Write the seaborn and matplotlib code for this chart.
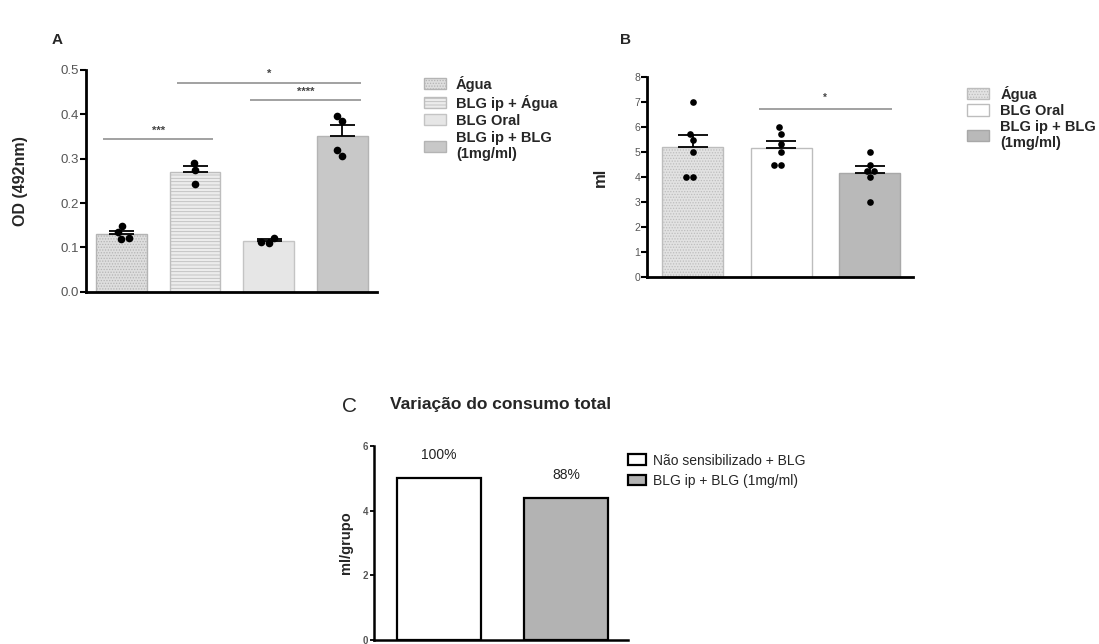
import numpy as np
import pandas as pd
import matplotlib
matplotlib.use("Agg")
import matplotlib.pyplot as plt
from matplotlib.patches import Patch
import seaborn as sns

# ---------------- data ----------------
groups_A = ["Água", "BLG ip + Água", "BLG Oral", "BLG ip + BLG\n(1mg/ml)"]
od_agua = [0.134, 0.149, 0.118, 0.122]
od_blgip_agua = [0.291, 0.274, 0.244]
od_blg_oral = [0.122, 0.110, 0.113]
od_blgip_blg = [0.397, 0.385, 0.307, 0.320]
sig_A = [(0, 1, 0.344, "***"), (1, 3, 0.471, "*"), (2, 3, 0.432, "****")]

groups_B = ["Água", "BLG Oral", "BLG ip + BLG\n(1mg/ml)"]
ml_agua = [7.0, 5.75, 5.5, 5.0, 4.0, 4.0]
ml_blg_oral = [6.0, 5.75, 5.33, 5.0, 4.5, 4.5]
ml_blgip_blg = [5.0, 4.5, 4.25, 4.25, 4.0, 3.0]
sig_B = [(1, 2, 6.72, "*")]

groups_C = ["Não sensibilizado + BLG", "BLG ip + BLG (1mg/ml)"]
consumo_C = [5.0, 4.4]
pct_C = ["100%", "88%"]

# ---------------- style ----------------
sns.set_style("ticks")
plt.rcParams["font.family"] = ["Liberation Sans", "DejaVu Sans"]
plt.rcParams["hatch.linewidth"] = 0.6

W, H = 1099, 644
fig = plt.figure(figsize=(W / 100, H / 100), dpi=100)


def box(l, r, t, b):
    return [l / W, 1 - b / H, (r - l) / W, (b - t) / H]


def style_axes(ax, tick_size, lw=2.0):
    sns.despine(ax=ax)
    ax.spines["left"].set_linewidth(lw)
    ax.spines["bottom"].set_linewidth(lw)
    ax.spines["left"].set_color("black")
    ax.spines["bottom"].set_color("black")
    ax.tick_params(axis="y", length=4, width=1.5, labelsize=tick_size,
                   colors="black", labelcolor="#555555", pad=1)
    ax.tick_params(axis="x", length=0, labelbottom=False)
    ax.set_xlabel("")


def sem_bars(ax, df, order, capsize):
    g = df.groupby("grupo", sort=False)["val"]
    means = g.mean().reindex(order).values
    sems = g.sem().reindex(order).values
    ax.errorbar(np.arange(len(order)), means, yerr=[np.zeros_like(sems), sems],
                fmt="none", ecolor="black", elinewidth=1.3, capsize=capsize,
                capthick=1.3, zorder=3)


def sig_lines(ax, sigs, star_off, fs):
    for a, b, h, s in sigs:
        ax.plot([a - 0.25, b + 0.25], [h, h], color="#9a9a9a", lw=1.3,
                solid_capstyle="butt", zorder=2)
        ax.text((a + b) / 2, h + star_off, s, ha="center", va="bottom",
                fontsize=fs, color="#444444", fontweight="bold")


# ---------------- Panel A ----------------
dfA = pd.DataFrame({
    "grupo": [groups_A[0]] * len(od_agua) + [groups_A[1]] * len(od_blgip_agua)
    + [groups_A[2]] * len(od_blg_oral) + [groups_A[3]] * len(od_blgip_blg),
    "val": od_agua + od_blgip_agua + od_blg_oral + od_blgip_blg,
})
faces_A = ["#dedede", "#ececec", "#e6e6e6", "#c8c8c8"]
edges_A = ["#b4b4b4", "#bdbdbd", "#c4c4c4", "#b4b4b4"]
hatch_A = ["......", "-----", None, None]

axA = fig.add_axes(box(86, 377, 70, 291.7))
sns.barplot(data=dfA, x="grupo", y="val", order=groups_A, hue="grupo",
            hue_order=groups_A, palette=faces_A, legend=False, errorbar=None,
            width=0.69, linewidth=1.0, ax=axA, zorder=1)
for p, ec, ht in zip(axA.patches[:4], edges_A, hatch_A):
    p.set_edgecolor(ec)
    if ht:
        p.set_hatch(ht)
sem_bars(axA, dfA, groups_A, 9)
sns.swarmplot(data=dfA, x="grupo", y="val", order=groups_A, color="black",
              size=5.5, ax=axA, zorder=4)
sig_lines(axA, sig_A, 0.008, 8)
axA.set_xlim(-0.48, 3.47)
axA.set_ylim(0, 0.5)
axA.set_yticks([0, 0.1, 0.2, 0.3, 0.4, 0.5])
axA.set_yticklabels([f"{v:.1f}" for v in [0, 0.1, 0.2, 0.3, 0.4, 0.5]])
style_axes(axA, 9.5)
axA.set_ylabel("OD (492nm)", fontsize=11.5, fontweight="bold")
axA.yaxis.set_label_coords((28 - 86) / 291, 0.5)
fig.text(52 / W, 1 - 40 / H, "A", fontsize=11, fontweight="bold", va="center")

handlesA = [Patch(facecolor=f, edgecolor=e, hatch=h, label=l)
            for f, e, h, l in zip(faces_A, edges_A, hatch_A, groups_A)]
fig.legend(handles=handlesA, loc="upper left",
           bbox_to_anchor=(418 / W, 1 - 70 / H), frameon=False,
           prop={"weight": "bold", "size": 10.5}, handlelength=1.5,
           handleheight=0.8, labelspacing=0.2, handletextpad=0.7,
           borderaxespad=0)

# ---------------- Panel B ----------------
dfB = pd.DataFrame({
    "grupo": [groups_B[0]] * len(ml_agua) + [groups_B[1]] * len(ml_blg_oral)
    + [groups_B[2]] * len(ml_blgip_blg),
    "val": ml_agua + ml_blg_oral + ml_blgip_blg,
})
faces_B = ["#e2e2e2", "#ffffff", "#b9b9b9"]
edges_B = ["#bdbdbd", "#bdbdbd", "#a8a8a8"]
hatch_B = ["......", None, None]

axB = fig.add_axes(box(647, 913, 77.3, 277.3))
sns.barplot(data=dfB, x="grupo", y="val", order=groups_B, hue="grupo",
            hue_order=groups_B, palette=faces_B, legend=False, errorbar=None,
            width=0.69, linewidth=1.0, ax=axB, zorder=1)
for p, ec, ht in zip(axB.patches[:3], edges_B, hatch_B):
    p.set_edgecolor(ec)
    if ht:
        p.set_hatch(ht)
sem_bars(axB, dfB, groups_B, 11)
sns.swarmplot(data=dfB, x="grupo", y="val", order=groups_B, color="black",
              size=4.8, ax=axB, zorder=4)
sig_lines(axB, sig_B, 0.25, 7)
axB.set_xlim(-0.514, 2.49)
axB.set_ylim(0, 8)
axB.set_yticks(range(0, 9))
style_axes(axB, 7.5)
axB.set_ylabel("ml", fontsize=12, fontweight="bold")
axB.yaxis.set_label_coords((608 - 647) / 266, 0.5)
fig.text(620 / W, 1 - 40 / H, "B", fontsize=11, fontweight="bold", va="center")

handlesB = [Patch(facecolor=f, edgecolor=e, hatch=h, label=l)
            for f, e, h, l in zip(faces_B, edges_B, hatch_B, groups_B)]
fig.legend(handles=handlesB, loc="upper left",
           bbox_to_anchor=(961 / W, 1 - 80 / H), frameon=False,
           prop={"weight": "bold", "size": 10.5}, handlelength=1.5,
           handleheight=0.8, labelspacing=0.15, handletextpad=0.8,
           borderaxespad=0)

# ---------------- Panel C ----------------
dfC = pd.DataFrame({"grupo": groups_C, "val": consumo_C})
faces_C = ["#ffffff", "#b3b3b3"]
axC = fig.add_axes(box(374, 628, 446, 640))
sns.barplot(data=dfC, x="grupo", y="val", order=groups_C, hue="grupo",
            hue_order=groups_C, palette=faces_C, legend=False, errorbar=None,
            width=0.665, edgecolor="black", linewidth=1.6, ax=axC)
for i, (v, t) in enumerate(zip(consumo_C, pct_C)):
    axC.text(i, v + 0.5, t, ha="center", va="bottom", fontsize=10,
             color="#222222")
axC.set_xlim(-0.514, 1.49)
axC.set_ylim(0, 6)
axC.set_yticks([0, 2, 4, 6])
style_axes(axC, 7, lw=1.8)
axC.tick_params(axis="y", length=3, width=1.3)
for lab in axC.get_yticklabels():
    lab.set_fontweight("bold")
axC.set_ylabel("ml/grupo", fontsize=10.5, fontweight="bold")
axC.yaxis.set_label_coords((353 - 374) / 254, 0.5)
fig.text(342 / W, 1 - 406 / H, "C", fontsize=15, va="center")
fig.text(390 / W, 1 - 405 / H, "Variação do consumo total", fontsize=12.5,
         fontweight="bold", va="center")
handlesC = [Patch(facecolor=f, edgecolor="black", linewidth=1.6, label=l)
            for f, l in zip(faces_C, groups_C)]
fig.legend(handles=handlesC, loc="upper left",
           bbox_to_anchor=(622 / W, 1 - 448 / H), frameon=False,
           prop={"size": 10}, handlelength=1.3, handleheight=0.8,
           labelspacing=0.45, handletextpad=0.5, borderaxespad=0)

fig.savefig("out.png", dpi=100)
